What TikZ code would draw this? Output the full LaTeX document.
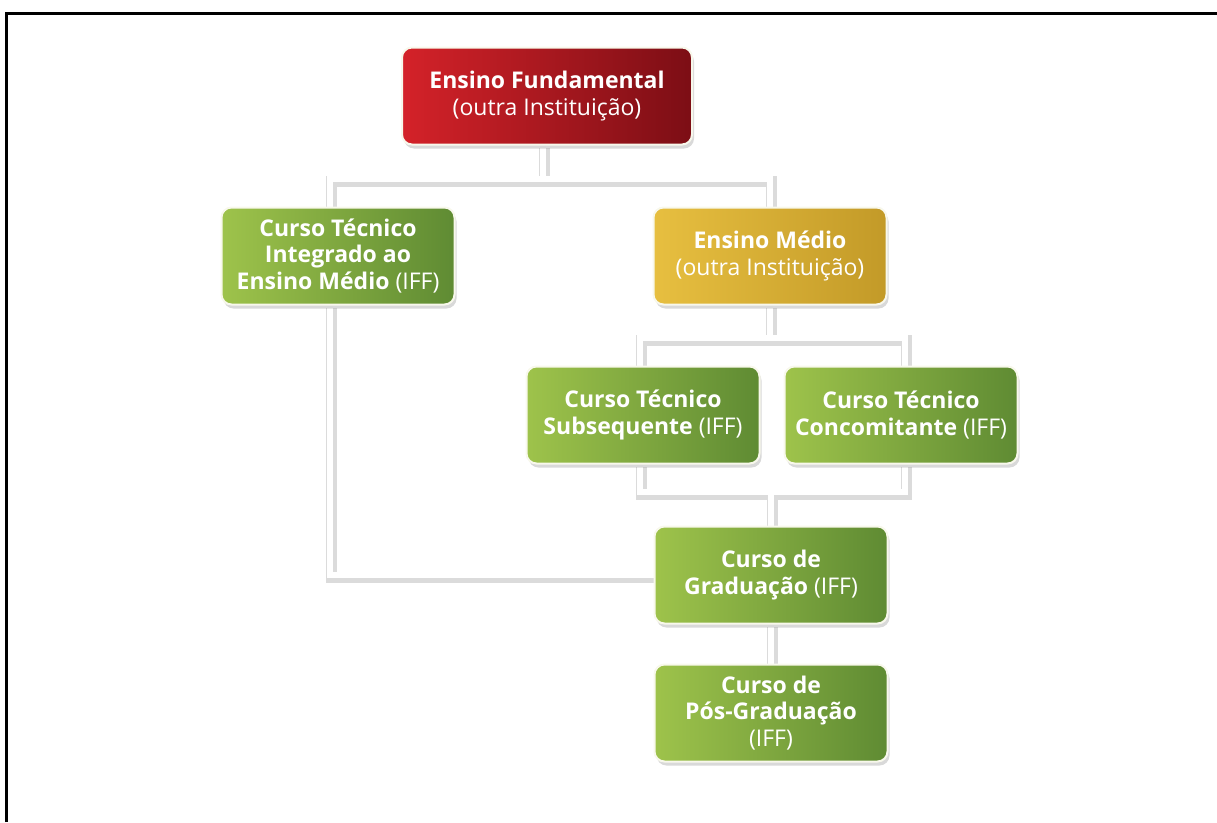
\documentclass[tikz,border=0pt]{standalone}
\usepackage{fontspec}
\setmainfont{Open Sans}
\usepackage{xcolor}
\usetikzlibrary{shadows,backgrounds}
\definecolor{CRedL}{HTML}{D42229}
\definecolor{CRedR}{HTML}{7C0E15}
\definecolor{CGoldL}{HTML}{E7BF40}
\definecolor{CGoldR}{HTML}{C39A28}
\definecolor{CGreenL}{HTML}{9EC34B}
\definecolor{CGreenR}{HTML}{5F8B33}
\definecolor{CEdge}{HTML}{F8F8EC}

\begin{document}
\begin{tikzpicture}[inner sep=0pt,x=1pt,y=1pt,
  box/.style={minimum height=97pt, minimum width=233pt, rounded corners=10pt, draw=CEdge, line width=2pt, align=center, text=white, font=\fontsize{23}{26.5}\selectfont, drop shadow={opacity=0.3, shadow xshift=2pt, shadow yshift=-4pt}},
  redbox/.style={box, left color=CRedL, right color=CRedR},
  goldbox/.style={box, left color=CGoldL, right color=CGoldR},
  greenbox/.style={box, left color=CGreenL, right color=CGreenR},
  bar/.style={draw=white, line width=6pt},
  barshade/.style={draw=black!14, line width=11pt, transform canvas={shift={(1.5pt,-2.5pt)}}}]
\useasboundingbox (0,0) rectangle (1217,-822);
\draw[line width=3pt] (6,-822) -- (6,-13.5) -- (1217,-13.5);

\node (n0) [redbox, minimum width=290pt, at={(547pt,-96pt)}] {\textbf{Ensino Fundamental}\\(outra Instituição)};
\node (n1) [greenbox, at={(338pt,-256pt)}] {\textbf{Curso Técnico}\\\textbf{Integrado ao}\\\textbf{Ensino Médio} (IFF)};
\node (n2) [goldbox, at={(770pt,-256pt)}] {\textbf{Ensino Médio}\\(outra Instituição)};
\node (n3) [greenbox, at={(643pt,-415pt)}] {\textbf{Curso Técnico}\\\textbf{Subsequente} (IFF)};
\node (n4) [greenbox, at={(901pt,-415pt)}] {\textbf{Curso Técnico}\\\textbf{Concomitante} (IFF)};
\node (n5) [greenbox, at={(771pt,-575pt)}] {\textbf{Curso de}\\\textbf{Graduação} (IFF)};
\node (n6) [greenbox, at={(771pt,-713pt)}] {\textbf{Curso de}\\\textbf{Pós-Graduação}\\(IFF)};

\begin{scope}[on background layer]
\foreach \s in {barshade,bar}{
\path [\s] ([xshift=-4pt]n0.south)--++(0,-33pt)-|([xshift=-8pt]n1.north);
\path [\s] ([xshift=-4pt]n0.south)--++(0,-33pt)-|(n2.north);
\path [\s] ([xshift=-8pt]n1.south)|-(n5.west);
\path [\s] (n2.south)--++(0,-32pt)-|([xshift=-3pt]n3.north);
\path [\s] (n2.south)--++(0,-32pt)-|([xshift=4pt]n4.north);
\path [\s] ([xshift=-3pt]n3.south)--++(0,-27pt)-|([xshift=4pt]n4.south);
\path [\s] (n5.north)--++(0,34pt);
\path [\s] (n5.south)--(n6.north);
}
\end{scope}
\end{tikzpicture}
\end{document}
